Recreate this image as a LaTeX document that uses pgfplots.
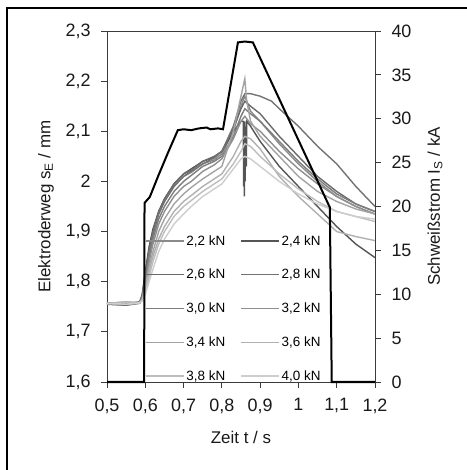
\documentclass[border=0pt]{standalone}
\usepackage{fontspec}
\setmainfont{Liberation Sans}
\usepackage{pgfplots}
\pgfplotsset{compat=1.18}
\definecolor{cA}{HTML}{8A8A8A}
\definecolor{cB}{HTML}{555555}
\definecolor{cC}{HTML}{6A6A6A}
\definecolor{cD}{HTML}{737373}
\definecolor{cE}{HTML}{7D7D7D}
\definecolor{cF}{HTML}{8F8F8F}
\definecolor{cG}{HTML}{A3A3A3}
\definecolor{cH}{HTML}{B0B0B0}
\definecolor{cI}{HTML}{BDBDBD}
\definecolor{cJ}{HTML}{CDCDCD}
\definecolor{axc}{HTML}{3A3A3A}
\begin{document}
\begin{tikzpicture}
\useasboundingbox (-107bp,-88bp) rectangle (360bp,382bp);
\draw[line width=2bp,black] (-100bp,-90bp) -- (-100bp,373.5bp) -- (362bp,373.5bp);
\pgfplotsset{
  base/.style={
    scale only axis, width=268bp, height=351bp,
    xmin=0.5, xmax=1.2,
    /pgf/number format/assume math mode=true,
    /pgf/number format/use comma,
    /pgf/number format/fixed,
    /pgf/number format/precision=1,
    tick label style={font=\fontsize{18}{20}\selectfont, text=black!90},
    tick align=outside, major tick length=6bp,
    every tick/.style={axc, line width=0.8bp},
    axis line style={axc, line width=0.8bp},
  }
}
\begin{axis}[base,
  ymin=1.6, ymax=2.3,
  xtick={0.5,0.6,...,1.21},
  ytick={1.6,1.7,...,2.31},
  xtick pos=bottom, ytick pos=left,
  yticklabel style={xshift=-7bp},
  xticklabel style={yshift=-7bp},
  every axis y label/.style={at={(axis description cs:-0.2276,0.5)}, rotate=90, anchor=center, font=\fontsize{17}{19}\selectfont, text=black!90},
  every axis x label/.style={at={(axis description cs:0.5,-0.1567)}, anchor=center, font=\fontsize{17}{19}\selectfont, text=black!90},
  xlabel={Zeit t / s},
  ylabel={Elektroderweg s\textsubscript{E} / mm},
  legend columns=2,
  legend cell align=left,
  legend image code/.code={\draw[#1] (0bp,0bp) -- (38bp,0bp);},
  legend style={at={(rel axis cs:0.13,0.43)}, anchor=north west, draw=none, fill=none,
    font=\fontsize{13.5}{15}\selectfont, row sep=18.6bp,
    /tikz/every even column/.append style={column sep=13bp}},
]
\addplot[cA, line width=1.4bp] coordinates {(0.50,1.757)(0.55,1.759)(0.585,1.758)(0.592,1.77)(0.60,1.81)(0.61,1.86)(0.62,1.895)(0.635,1.935)(0.65,1.96)(0.675,1.99)(0.70,2.01)(0.72,2.018)(0.75,2.035)(0.78,2.043)(0.80,2.055)(0.83,2.10)(0.85,2.15)(0.86,2.17)(0.875,2.14)(0.90,2.12)(0.95,2.075)(1.00,2.035)(1.05,2.0)(1.10,1.97)(1.15,1.95)(1.20,1.935)};
\addlegendentry{2,2 kN}
\addplot[cB, line width=1.4bp] coordinates {(0.50,1.755)(0.55,1.753)(0.585,1.757)(0.592,1.775)(0.60,1.82)(0.61,1.87)(0.62,1.905)(0.635,1.94)(0.65,1.965)(0.675,1.995)(0.70,2.015)(0.72,2.025)(0.75,2.04)(0.78,2.048)(0.80,2.06)(0.83,2.10)(0.85,2.12)(0.856,2.12)(0.857,1.99)(0.858,2.11)(0.859,1.97)(0.860,2.12)(0.861,2.0)(0.862,2.11)(0.864,2.03)(0.865,2.12)(0.875,2.11)(0.90,2.08)(0.95,2.03)(1.00,1.99)(1.05,1.95)(1.10,1.91)(1.15,1.875)(1.20,1.848)};
\addlegendentry{2,4 kN}
\addplot[cC, line width=1.4bp] coordinates {(0.50,1.758)(0.55,1.756)(0.585,1.76)(0.592,1.772)(0.60,1.815)(0.61,1.865)(0.62,1.90)(0.635,1.94)(0.65,1.965)(0.675,1.995)(0.70,2.015)(0.72,2.022)(0.75,2.04)(0.78,2.05)(0.80,2.06)(0.83,2.105)(0.85,2.145)(0.86,2.16)(0.875,2.15)(0.90,2.135)(0.95,2.09)(1.00,2.05)(1.05,2.01)(1.10,1.98)(1.15,1.955)(1.20,1.94)};
\addlegendentry{2,6 kN}
\addplot[cD, line width=1.4bp] coordinates {(0.50,1.756)(0.55,1.758)(0.585,1.757)(0.592,1.77)(0.60,1.81)(0.61,1.86)(0.62,1.895)(0.635,1.935)(0.65,1.96)(0.675,1.99)(0.70,2.01)(0.72,2.02)(0.75,2.035)(0.78,2.047)(0.80,2.06)(0.83,2.11)(0.85,2.16)(0.86,2.175)(0.875,2.175)(0.90,2.17)(0.93,2.16)(0.95,2.145)(1.00,2.11)(1.05,2.07)(1.10,2.035)(1.15,1.99)(1.20,1.95)};
\addlegendentry{2,8 kN}
\addplot[cE, line width=1.4bp] coordinates {(0.50,1.757)(0.55,1.755)(0.585,1.758)(0.592,1.768)(0.60,1.80)(0.61,1.85)(0.62,1.885)(0.635,1.925)(0.65,1.95)(0.675,1.98)(0.70,2.0)(0.72,2.012)(0.75,2.03)(0.78,2.04)(0.80,2.05)(0.83,2.09)(0.85,2.13)(0.86,2.145)(0.875,2.135)(0.90,2.12)(0.95,2.08)(1.00,2.04)(1.05,2.005)(1.10,1.975)(1.15,1.955)(1.20,1.94)};
\addlegendentry{3,0 kN}
\addplot[cF, line width=1.4bp] coordinates {(0.50,1.757)(0.55,1.759)(0.585,1.758)(0.592,1.766)(0.60,1.795)(0.61,1.84)(0.62,1.875)(0.635,1.915)(0.65,1.94)(0.675,1.97)(0.70,1.99)(0.72,2.0)(0.75,2.02)(0.78,2.033)(0.80,2.045)(0.83,2.085)(0.85,2.12)(0.86,2.13)(0.875,2.115)(0.90,2.10)(0.95,2.06)(1.00,2.025)(1.05,1.995)(1.10,1.97)(1.15,1.95)(1.20,1.935)};
\addlegendentry{3,2 kN}
\addplot[cG, line width=1.4bp] coordinates {(0.50,1.756)(0.55,1.754)(0.585,1.757)(0.592,1.765)(0.60,1.79)(0.61,1.83)(0.62,1.86)(0.635,1.90)(0.65,1.925)(0.675,1.955)(0.70,1.975)(0.72,1.988)(0.75,2.005)(0.78,2.02)(0.80,2.03)(0.83,2.10)(0.85,2.17)(0.86,2.205)(0.865,2.16)(0.875,2.12)(0.90,2.09)(0.95,2.05)(1.00,2.01)(1.05,1.98)(1.10,1.96)(1.15,1.945)(1.20,1.935)};
\addlegendentry{3,4 kN}
\addplot[cH, line width=1.4bp] coordinates {(0.50,1.757)(0.55,1.76)(0.585,1.758)(0.592,1.764)(0.60,1.785)(0.61,1.82)(0.62,1.85)(0.635,1.885)(0.65,1.91)(0.675,1.94)(0.70,1.96)(0.72,1.972)(0.75,1.99)(0.78,2.005)(0.80,2.015)(0.83,2.05)(0.85,2.08)(0.86,2.09)(0.875,2.085)(0.90,2.065)(0.95,2.01)(1.00,1.97)(1.05,1.935)(1.10,1.90)(1.15,1.89)(1.20,1.882)};
\addlegendentry{3,6 kN}
\addplot[cI, line width=1.4bp] coordinates {(0.50,1.756)(0.55,1.758)(0.585,1.757)(0.592,1.763)(0.60,1.78)(0.61,1.81)(0.62,1.84)(0.635,1.875)(0.65,1.90)(0.675,1.93)(0.70,1.95)(0.72,1.962)(0.75,1.98)(0.78,1.995)(0.80,2.005)(0.83,2.035)(0.85,2.06)(0.86,2.075)(0.875,2.07)(0.90,2.05)(0.95,2.015)(1.00,1.985)(1.05,1.96)(1.10,1.94)(1.15,1.93)(1.20,1.92)};
\addlegendentry{3,8 kN}
\addplot[cJ, line width=1.4bp] coordinates {(0.50,1.757)(0.55,1.755)(0.585,1.758)(0.592,1.762)(0.60,1.775)(0.61,1.80)(0.62,1.825)(0.635,1.86)(0.65,1.885)(0.675,1.915)(0.70,1.935)(0.72,1.95)(0.75,1.97)(0.78,1.985)(0.80,1.995)(0.83,2.025)(0.85,2.045)(0.86,2.05)(0.875,2.045)(0.90,2.03)(0.95,2.0)(1.00,1.975)(1.05,1.955)(1.10,1.94)(1.15,1.93)(1.20,1.925)};
\addlegendentry{4,0 kN}
\end{axis}
\begin{axis}[base,
  ymin=0, ymax=40,
  ytick={0,5,...,40},
  axis x line=none, axis y line*=right,
  yticklabel style={xshift=7bp},
  clip=false,
  every axis y label/.style={at={(axis description cs:1.224,0.5)}, rotate=90, anchor=center, font=\fontsize{17}{19}\selectfont, text=black!90},
  ylabel={Schweißstrom I\textsubscript{S} / kA},
]
\addplot[black, line width=2bp] coordinates {(0.5,0)(0.597,0)(0.598,20.4)(0.612,21.1)(0.633,23.4)(0.659,26.1)(0.685,28.7)(0.70,28.8)(0.72,28.7)(0.74,28.9)(0.76,29.0)(0.77,28.8)(0.79,28.9)(0.803,28.8)(0.842,38.7)(0.86,38.8)(0.881,38.7)(1.082,19.9)(1.087,0)(1.2,0)};
\end{axis}
\end{tikzpicture}
\end{document}
